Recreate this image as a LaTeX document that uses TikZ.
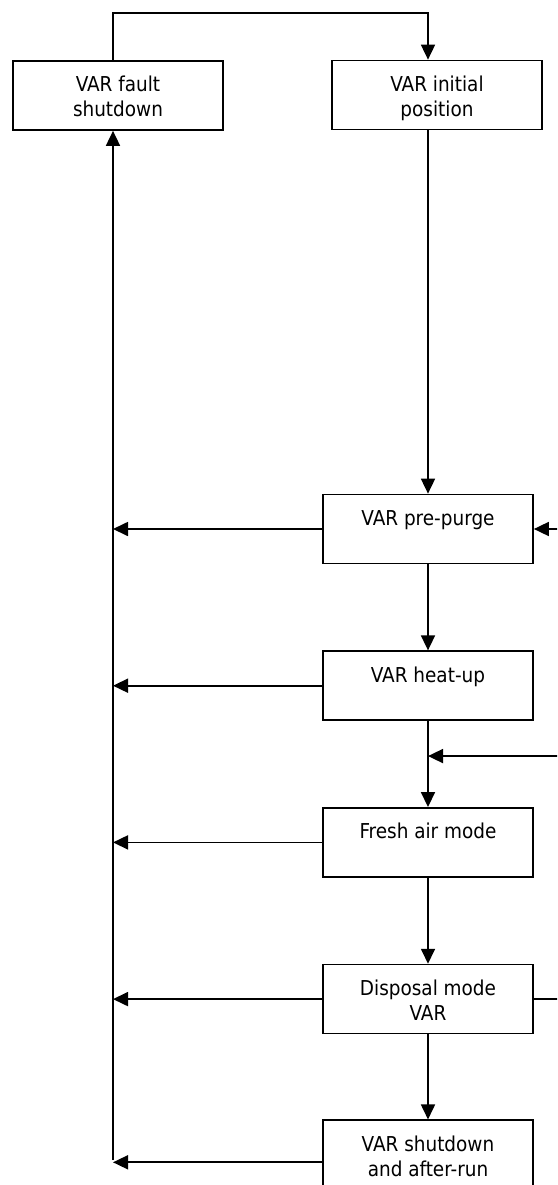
\documentclass[tikz,border=0pt]{standalone}
\usepackage{fontspec}
\setmainfont{DejaVu Sans Condensed}
\usetikzlibrary{arrows.meta,positioning}
% text sits at the top of each box
\newcommand{\stagetext}[2][69pt]{\parbox[c][#1][t]{204pt}{\centering\rule{0pt}{31pt}#2}}

\begin{document}
\begin{tikzpicture}[x=1pt,y=-1pt,>={Triangle[length=15pt,width=14pt]},line width=1.7pt,node distance=86pt,font=\fontsize{20.5}{25}\selectfont]
\tikzset{stage/.style={draw,line width=1.7pt,inner sep=0pt,minimum width=210pt,minimum height=69pt}}
\useasboundingbox (0,0) rectangle (557,1185);
\clip (0,0) rectangle (557,1185);
\node[stage] (fault) at (118,95.5) {\stagetext{VAR fault\\shutdown}};
\node[stage] (init) at (437,95) {\stagetext{VAR initial\\position}};
\node[stage] (prepurge) at (428,529) {\stagetext{VAR pre-purge}};
\node[stage,below=of prepurge] (heatup) {\stagetext{VAR heat-up}};
\node[stage,below=of heatup] (fresh) {\stagetext{Fresh air mode}};
\node[stage,below=of fresh] (disposal) {\stagetext{Disposal mode\\VAR}};
\node[stage,below=85pt of disposal] (shutdown) {\stagetext[84pt]{VAR shutdown\\and after-run}};
\coordinate (bus) at (113,1160);
\coordinate (rim) at (575,0);
\coordinate (topline) at (0,13);
\coordinate[below=35pt of heatup.south] (joint);
% main sequence
\draw[->] (init.south -| prepurge.north) -- (prepurge.north);
\draw[->] (prepurge) -- (heatup);
\draw[->] (heatup) -- (fresh);
\draw[->] (fresh) -- (disposal);
\draw[->] (disposal) -- (shutdown);
% fault branch
\foreach \s in {prepurge,heatup,fresh,disposal,shutdown}
  \draw[->] (\s.west) -- (\s.west -| bus);
\draw[->] (bus) -- (fault.south -| bus);
\draw[->] (fault.north -| bus) |- (topline -| prepurge.north) -- (init.north -| prepurge.north);
% links at the right edge
\draw[->] (prepurge.east -| rim) -- (prepurge.east);
\draw[->] (joint -| rim) -- (joint);
\draw (disposal.east) -- (disposal.east -| rim);
\end{tikzpicture}
\end{document}
